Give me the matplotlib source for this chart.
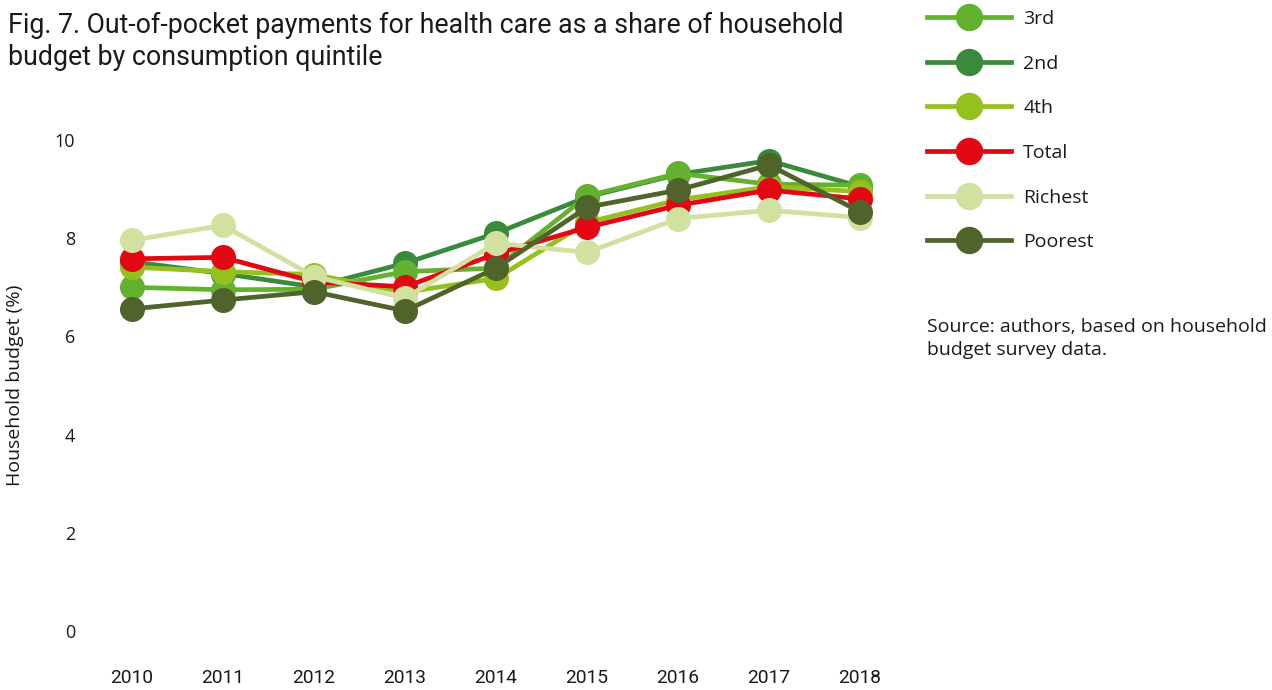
import matplotlib
matplotlib.use("Agg")
import matplotlib.pyplot as plt

# Out-of-pocket payments by consumption quintile, % of household budget
years = [2010, 2011, 2012, 2013, 2014, 2015, 2016, 2017, 2018]
third = [7.00, 6.95, 6.96, 7.32, 7.39, 8.86, 9.32, 9.10, 9.08]
second = [7.52, 7.28, 7.01, 7.49, 8.10, 8.84, 9.30, 9.58, 9.05]
fourth = [7.41, 7.32, 7.26, 6.90, 7.18, 8.32, 8.78, 9.05, 8.95]
total = [7.58, 7.61, 7.11, 7.01, 7.68, 8.22, 8.67, 8.98, 8.80]
richest = [7.96, 8.26, 7.22, 6.78, 7.90, 7.71, 8.40, 8.57, 8.42]
poorest = [6.56, 6.74, 6.91, 6.52, 7.39, 8.63, 8.98, 9.49, 8.54]

y_ticks = [0, 2, 4, 6, 8, 10]

plt.rcParams['font.family'] = ['Open Sans', 'DejaVu Sans']
narrow = ['Roboto', 'DejaVu Sans']

fig = plt.figure(figsize=(12.72, 6.9), dpi=100)
ax = fig.add_axes([0.068, 0.0855, 0.6439, 0.7116])

# drawn bottom to top
series = [
    ('2nd', second, '#3a8a3c'),
    ('3rd', third, '#62b22f'),
    ('4th', fourth, '#95c11f'),
    ('Total', total, '#e30613'),
    ('Richest', richest, '#d0e1a0'),
    ('Poorest', poorest, '#4f632b'),
]
lines = {}
for i, (name, vals, col) in enumerate(series):
    ln, = ax.plot(years, vals, color=col, lw=3.4, marker='o', markersize=17,
                  label=name, zorder=3 + i, clip_on=False)
    lines[name] = ln

ax.set_xlim(2009.5, 2018.5)
ax.set_ylim(0, 10)
ax.set_xticks(years)
ax.set_xticklabels([str(y) for y in years], fontfamily=narrow, fontsize=13.8)
ax.set_yticks(y_ticks)
ax.set_yticklabels([str(v) for v in y_ticks], fontsize=13)
ax.tick_params(axis='x', length=0, pad=27, colors='#1a1a1a')
ax.tick_params(axis='y', length=0, pad=8, colors='#1a1a1a')
for s in ax.spines.values():
    s.set_visible(False)
ax.set_ylabel('Household budget (%)', fontsize=14, labelpad=22, color='#1a1a1a')

fig.text(0.006, 0.982, 'Fig. 7. Out-of-pocket payments for health care as a share of household\n'
         'budget by consumption quintile', ha='left', va='top', fontsize=19.3,
         fontfamily=narrow, linespacing=1.2, color='#1a1a1a')

order = ['3rd', '2nd', '4th', 'Total', 'Richest', 'Poorest']
leg = fig.legend([lines[n] for n in order], order, loc='upper left',
                 bbox_to_anchor=(927 / 1272, 1 - 10 / 690), frameon=False,
                 fontsize=14, handlelength=4.3, handletextpad=0.65,
                 labelspacing=1.37, borderpad=0, borderaxespad=0, markerscale=1.1)
for t in leg.get_texts():
    t.set_color('#1a1a1a')

fig.text(927 / 1272, 1 - 318 / 690, 'Source: authors, based on household\nbudget survey data.',
         ha='left', va='top', fontsize=14, linespacing=1.38, color='#1a1a1a')

fig.savefig('out.png', dpi=100)
